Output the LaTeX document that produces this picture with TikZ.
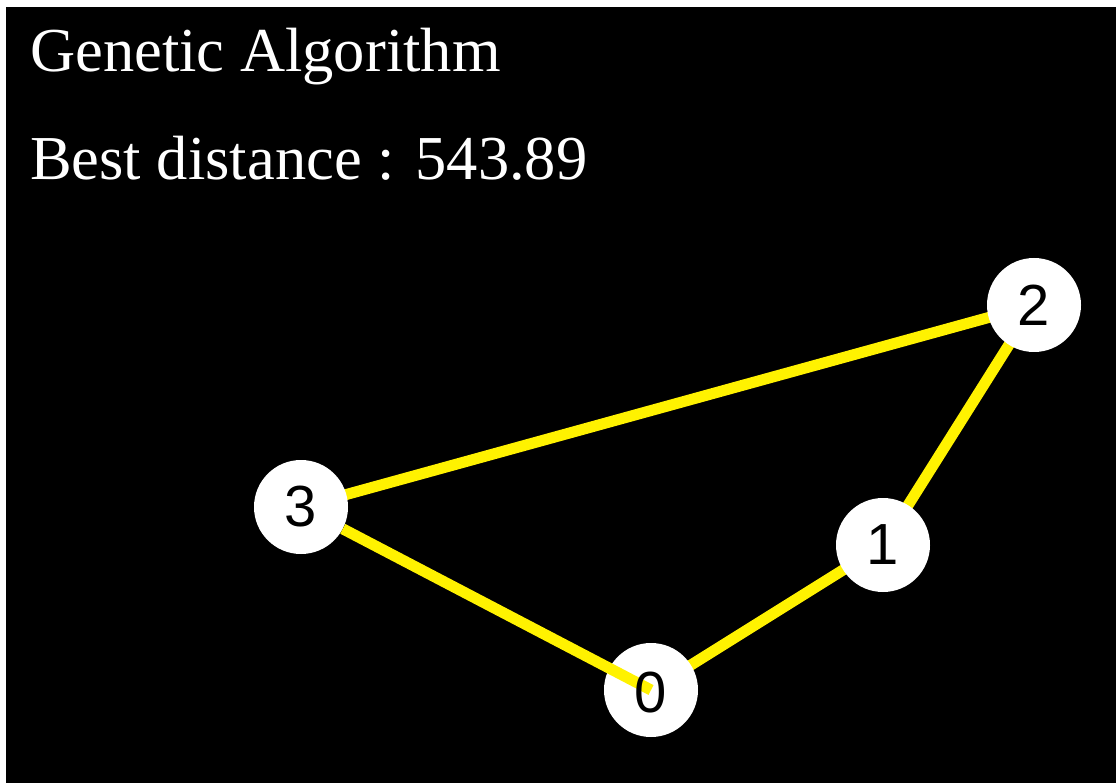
\documentclass[tikz,border=0pt]{standalone}
\usepackage{fontspec}
\setmainfont{Liberation Serif}
\newfontfamily\digitfont{Liberation Sans}
\begin{document}
\begin{tikzpicture}[x=1pt,y=-1pt,
  vertex/.style={circle,fill=white,minimum size=94pt,inner sep=0pt},
  digit/.style={font=\digitfont\fontsize{58}{60}\selectfont,text=black,inner sep=0pt},
  edge/.style={yellow,line width=11pt},
  title/.style={anchor=base west,inner sep=0pt,text=white,font=\fontsize{62.5}{70}\selectfont}]
\useasboundingbox (0,0) rectangle (1116,783);
\fill[white] (0,0) rectangle (1116,783);
\fill[black] (6,7) rectangle (1116,783);
\node[title] (t1) at (30,72) {Genetic Algorithm};
\node[title] (t2) at (30,180) {Best distance : 543.89};
\coordinate (p0) at (651,690);
\coordinate (p1) at (883,545);
\coordinate (p2) at (1034,305);
\coordinate (p3) at (301,507);
\draw[edge] (p0) -- (p1) -- (p2) -- (p3);
\node[vertex] (n1) at (p1) {};
\node[vertex] (n2) at (p2) {};
\node[vertex] (n3) at (p3) {};
\node[vertex] (n0) at (p0) {};
\draw[edge] (n3) -- (n0.center);
\node[digit] (d0) at (651,693) {0};
\node[digit] (d1) at (p1) {1};
\node[digit] (d2) at (p2) {2};
\node[digit] (d3) at (p3) {3};
\end{tikzpicture}
\end{document}
